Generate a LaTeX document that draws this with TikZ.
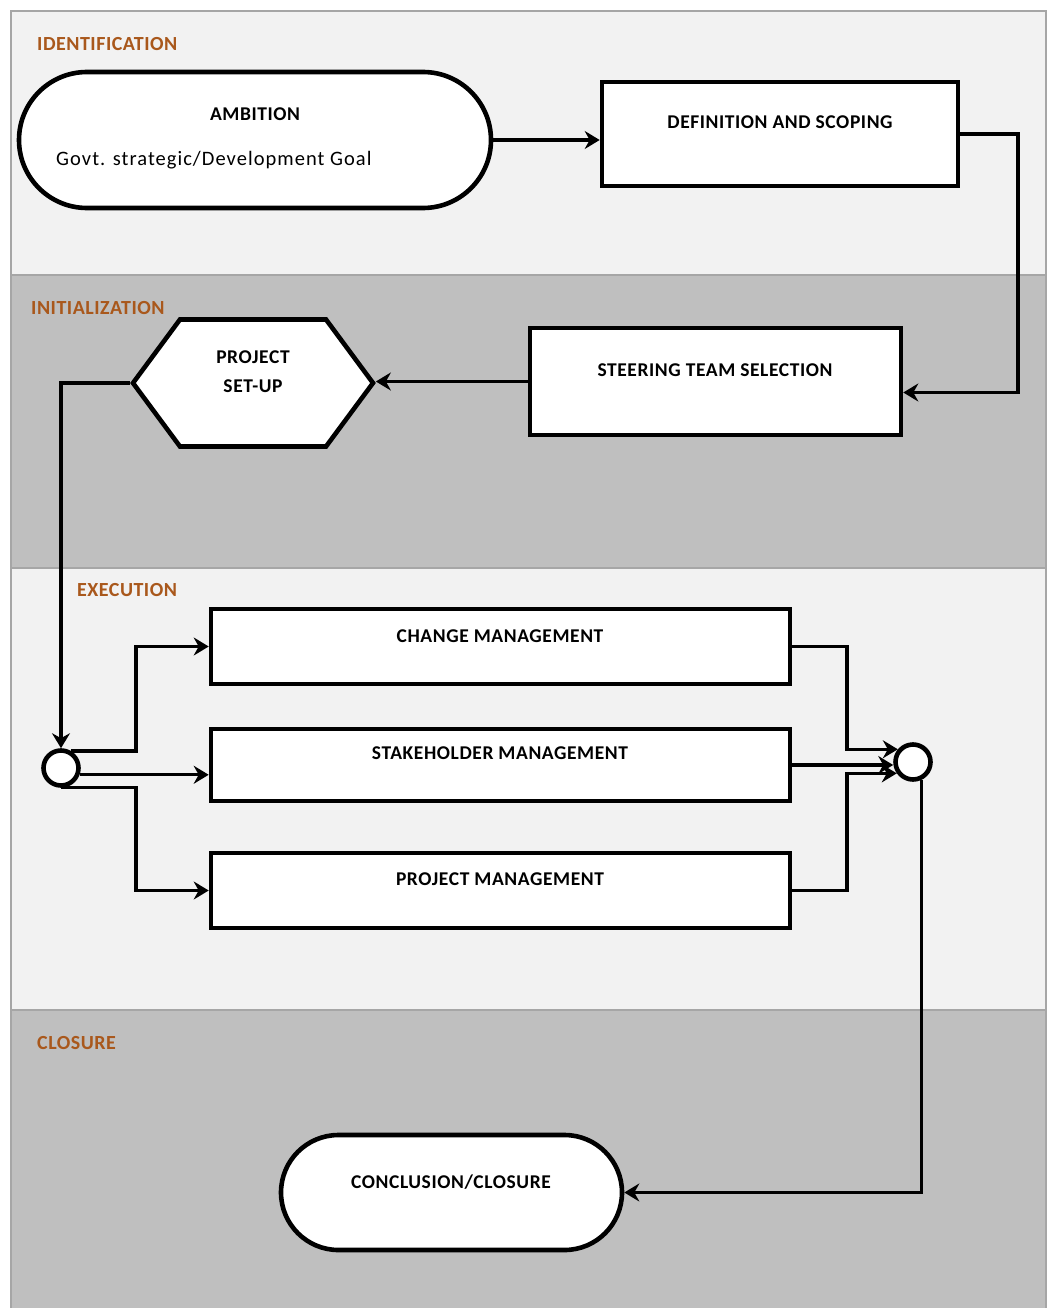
\documentclass[tikz,border=0pt]{standalone}
\usepackage{fontspec}
\setmainfont{Carlito}
\newfontfamily\titlefont[LetterSpace=3]{Carlito}
\newfontfamily\phasefont[LetterSpace=2.5]{Carlito}
\newfontfamily\bodyfont[LetterSpace=5]{Carlito}
\usetikzlibrary{arrows.meta,shapes.misc,shapes.symbols,calc}
\definecolor{bandlight}{HTML}{F2F2F2}
\definecolor{banddark}{HTML}{BFBFBF}
\definecolor{bandline}{HTML}{A6A6A6}
\definecolor{phase}{HTML}{A9581C}

\begin{document}
\begin{tikzpicture}[x=1pt,y=-1pt,
  phaselabel/.style={anchor=west, text=phase, font=\phasefont\fontsize{20}{24}\selectfont\bfseries, inner sep=0},
  box/.style={draw=black, line width=4.6pt, fill=white, rectangle, inner sep=0},
  title/.style={font=\titlefont\fontsize{19.5}{23}\selectfont\bfseries, inner sep=0},
  plain/.style={font=\bodyfont\fontsize{20.5}{24}\selectfont, inner sep=0},
  flow/.style={line width=3.3pt, -{Stealth[length=15pt,width=18pt,inset=5pt]}},
  junction/.style={circle, draw=black, line width=4.6pt, fill=white, minimum size=35pt, inner sep=0},
]
\useasboundingbox (0,0) rectangle (1047,1308);

% phase bands
\fill[bandlight] (10,10) rectangle (1046,275);
\fill[banddark] (10,275) rectangle (1046,568);
\fill[bandlight] (10,568) rectangle (1046,1010);
\fill[banddark] (10,1010) rectangle (1046,1308);
\draw[bandline, line width=2.5pt] (11,1308) -- (11,11) -- (1046,11) -- (1046,1308);
\draw[bandline, line width=2.5pt] (11,275) -- (1046,275) (11,568) -- (1046,568) (11,1010) -- (1046,1010);

% phase labels
\node[phaselabel] (lid) at (37,44) {IDENTIFICATION};
\node[phaselabel] (lin) at (31,308) {INITIALIZATION};
\node[phaselabel] (lex) at (77,590) {EXECUTION};
\node[phaselabel] (lcl) at (37,1043) {CLOSURE};

% identification
\node[box, rounded rectangle, minimum width=472pt, minimum height=136pt] (amb) at (255,140) {};
\node[title] (ambt) at (255,114) {AMBITION};
\node[plain, anchor=west] (ambs) at (56,160) {Govt. strategic/Development Goal};
\node[box, minimum width=356pt, minimum height=104pt] (ds) at (780,134) {};
\node[title] (dst) at (780,122) {DEFINITION AND SCOPING};

% initialization
\node[box, minimum width=371pt, minimum height=107pt] (st) at (715.5,381.5) {};
\node[title] (stt) at (715,370) {STEERING TEAM SELECTION};
\node[box, shape=signal, signal to=west and east, signal pointer angle=107,
      minimum width=240pt, minimum height=127pt] (hex) at (253,383) {};
\node[title] (hext1) at (253,357) {PROJECT};
\node[title] (hext2) at (253,386) {SET-UP};

% execution
\node[junction] (lc) at (61,768) {};
\node[junction] (rc) at (913,762) {};
\node[box, minimum width=579pt, minimum height=75pt] (cm) at (500.5,646.5) {};
\node[title] (cmt) at (500,636) {CHANGE MANAGEMENT};
\node[box, minimum width=579pt, minimum height=72pt] (sm) at (500.5,765) {};
\node[title] (smt) at (500,753) {STAKEHOLDER MANAGEMENT};
\node[box, minimum width=579pt, minimum height=75pt] (pm) at (500.5,890.5) {};
\node[title] (pmt) at (500,879) {PROJECT MANAGEMENT};

% closure
\node[box, rounded rectangle, minimum width=341pt, minimum height=115pt] (cc) at (451.5,1192.5) {};
\node[title] (cct) at (451,1182) {CONCLUSION/CLOSURE};

% connectors
\coordinate (rt) at (1018,0);
\coordinate (sx) at (136,0);
\coordinate (jx) at (847,0);
\coordinate (stin) at ([yshift=-11pt]st.east);
\draw[flow] (amb.east) -- (amb.east -| ds.west);
\draw[flow] (ds.east) -| (rt |- stin) -- (stin);
\draw[flow] (st.west) -- (st.west -| hex.east);
\draw[flow] (hex.west) -| (lc.north);
\draw[flow] (lc.60) -| (sx |- cm.west) -- (cm.west);
\draw[flow] (lc.-20) -- (lc.-20 -| sm.west);
\draw[flow] (lc.south) -| (sx |- pm.west) -- (pm.west);
\draw[flow] (cm.east) -| (jx |- rc.140) -- (rc.140);
\draw[flow] (sm.east) -- (sm.east -| rc.west);
\draw[flow] (pm.east) -| (jx |- rc.215) -- (rc.215);
\draw[flow] (rc.-65) |- (cc.east);
\end{tikzpicture}
\end{document}
